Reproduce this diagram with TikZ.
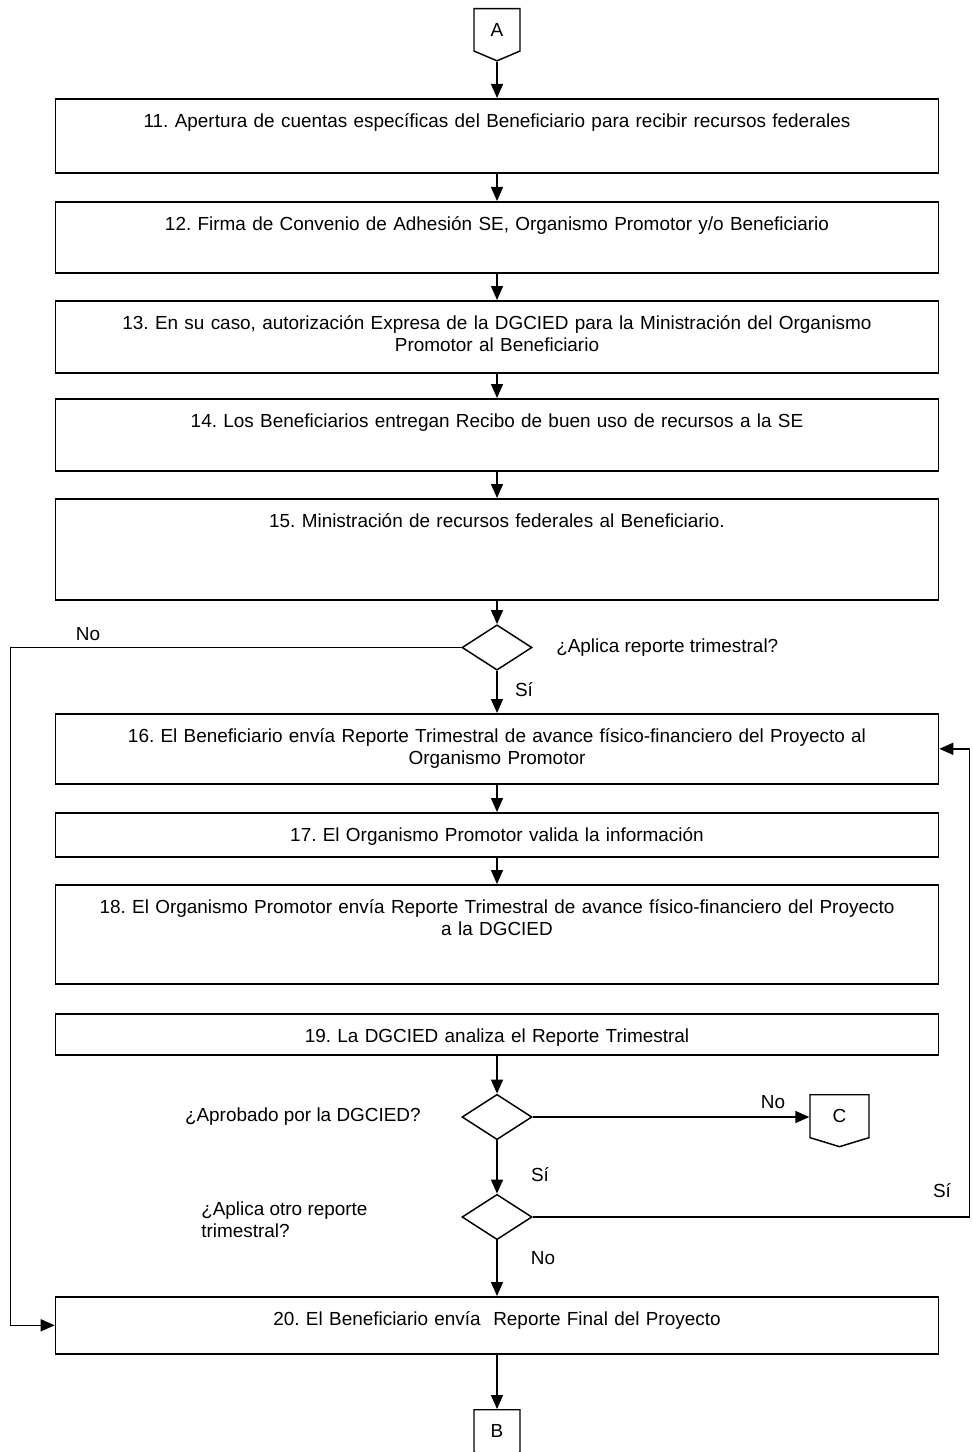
\documentclass[tikz,border=0pt]{standalone}
\usepackage{fontspec}
\setmainfont{Liberation Sans}
\usetikzlibrary{arrows.meta,shapes.geometric,shapes.symbols}
\frenchspacing

\tikzset{
  stepbox/.style={draw, line width=1.2pt, anchor=north, inner sep=0pt,
    minimum width=662.25pt, text width=660pt, align=center,
    text height=21.75pt, text depth=#1},
  decision/.style={draw, diamond, line width=1.1pt, inner sep=0pt,
    minimum width=52.5pt, minimum height=34pt},
  offpage/.style={draw, signal, signal to=south, line width=1.1pt,
    anchor=north, inner sep=0pt, signal pointer angle=#1},
  flow/.style={line width=1.1pt, -{Triangle[length=10.5pt,width=9pt]}},
  lbl/.style={inner sep=0pt}
}

\begin{document}
\begin{tikzpicture}[x=0.75pt, y=-0.75pt, font=\fontsize{14.2pt}{16.5pt}\selectfont]
  \useasboundingbox (0,0) rectangle (972,1452);

  % Connector coming in
  \node[offpage=134, minimum width=34.5pt, minimum height=33.75pt] (A) at (497,8) {A};

  % Steps 11 to 15
  \node[stepbox=33.75pt] (b11) at (497,98) {11. Apertura de cuentas específicas del Beneficiario para recibir recursos federales};
  \node[stepbox=31.5pt] (b12) at (497,201) {12. Firma de Convenio de Adhesión SE, Organismo Promotor y/o Beneficiario};
  \node[stepbox=32.25pt] (b13) at (497,300) {13. En su caso, autorización Expresa de la DGCIED para la Ministración del Organismo\\Promotor al Beneficiario};
  \node[stepbox=32.25pt] (b14) at (497,398) {14. Los Beneficiarios entregan Recibo de buen uso de recursos a la SE};
  \node[stepbox=54pt] (b15) at (497,498) {15. Ministración de recursos federales al Beneficiario.};

  % First question
  \node[decision] (d1) at (497,647.5) {};
  \node[lbl, anchor=west] (q1) at (556,648) {¿Aplica reporte trimestral?};

  % Quarterly report loop, steps 16 to 19
  \node[stepbox=30.75pt] (b16) at (497,713) {16. El Beneficiario envía Reporte Trimestral de avance físico-financiero del Proyecto al\\Organismo Promotor};
  \node[stepbox=11.25pt] (b17) at (497,812) {17. El Organismo Promotor valida la información};
  \node[stepbox=52.5pt] (b18) at (497,884) {18. El Organismo Promotor envía Reporte Trimestral de avance físico-financiero del Proyecto\\a la DGCIED};
  \node[stepbox=9pt] (b19) at (497,1013) {19. La DGCIED analiza el Reporte Trimestral};

  % Approval and repeat questions
  \node[decision] (d2) at (497,1117) {};
  \node[lbl, anchor=east] (q2) at (421,1117) {¿Aprobado por la DGCIED?};
  \node[offpage=146, minimum width=44.25pt, minimum height=33.75pt] (C) at (839.5,1094) {C};
  \node[decision] (d3) at (497,1217) {};
  \node[lbl, anchor=west, align=left] (q3) at (201,1220) {¿Aplica otro reporte\\trimestral?};

  % Final step
  \node[stepbox=21pt] (b20) at (497,1296) {20. El Beneficiario envía~ Reporte Final del Proyecto};
  \node[offpage=134, minimum width=34.5pt, minimum height=33.75pt] (B) at (497,1409) {B};

  % Branch labels
  \node[lbl] (n1) at (88,634) {No};
  \node[lbl] (s1) at (524,690) {Sí};
  \node[lbl] (n2) at (773,1102) {No};
  \node[lbl] (s2) at (540,1175) {Sí};
  \node[lbl] (s3) at (942,1191) {Sí};
  \node[lbl] (n3) at (543,1258) {No};

  % Connectors
  \draw[flow] (A.south) -- (b11.north);
  \foreach \a/\b in {b11/b12, b12/b13, b13/b14, b14/b15, b16/b17, b17/b18}
    \draw[flow] (\a.south) -- (\b.north);
  \draw[flow] (b15.south) -- (d1.north);
  \draw[flow] (d1.south) -- (b16.north);
  \draw[flow] (d1.west) -- ++(-451,0) |- (b20.west);
  \draw[flow] (b19.south) -- (d2.north);
  \draw[flow] (d2.east) -- (d2.east -| C.west);
  \draw[flow] (d2.south) -- (d3.north);
  \draw[flow] (d3.east) -- ++(437,0) |- (b16.east);
  \draw[flow] (d3.south) -- (b20.north);
  \draw[flow] (b20.south) -- (B.north);
\end{tikzpicture}
\end{document}
